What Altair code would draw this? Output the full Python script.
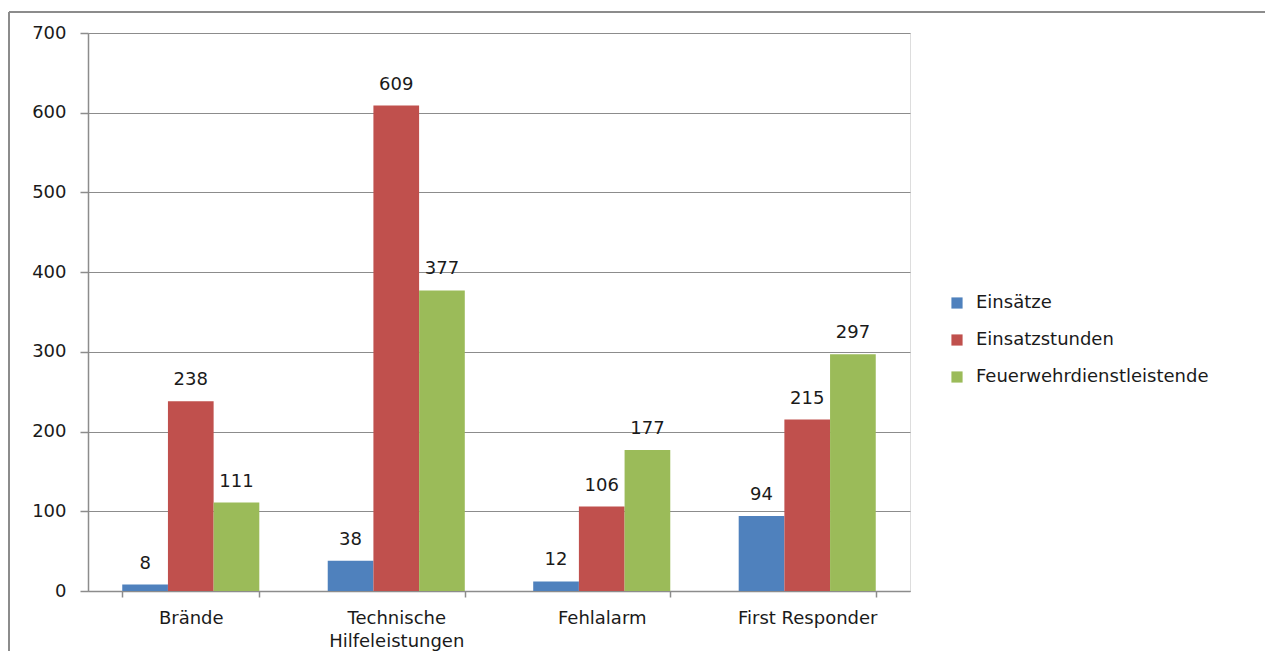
import altair as alt
import pandas as pd

categories = ["Brände", "Technische|Hilfeleistungen", "Fehlalarm", "First Responder"]
series = ["Einsätze", "Einsatzstunden", "Feuerwehrdienstleistende"]
einsaetze = [8, 38, 12, 94]
einsatzstunden = [238, 609, 106, 215]
feuerwehr = [111, 377, 177, 297]
colors = ["#4F81BD", "#C0504D", "#9BBB59"]

rows = []
for i, c in enumerate(categories):
    for s, vals in zip(series, [einsaetze, einsatzstunden, feuerwehr]):
        rows.append({"Kategorie": c, "Serie": s, "Wert": vals[i]})
df = pd.DataFrame(rows)

FONT = "DejaVu Sans"
FS = 18
TXT = "#1a1a1a"
GRAY = "#8c8c8c"

x = alt.X("Kategorie:N", sort=categories, title=None,
          scale=alt.Scale(paddingInner=0.333, paddingOuter=0.1667),
          axis=alt.Axis(labelAngle=0, labelFontSize=FS, labelFont=FONT, labelColor=TXT,
                        labelExpr="split(datum.label, '|')", labelPadding=12,
                        labelLineHeight=23,
                        domainColor=GRAY, domainWidth=1.5, tickColor=GRAY, tickWidth=1.5,
                        tickSize=6, tickBand="extent", grid=False))
y = alt.Y("Wert:Q", title=None,
          scale=alt.Scale(domain=[0, 700]),
          axis=alt.Axis(values=list(range(0, 701, 100)), labelFontSize=FS, labelFont=FONT,
                        labelColor=TXT, labelPadding=14, domainColor=GRAY, domainWidth=1.5,
                        tickColor=GRAY, tickWidth=1.5, tickSize=8,
                        gridColor=GRAY, gridWidth=1.2))
xo = alt.XOffset("Serie:N", sort=series)
color = alt.Color("Serie:N", sort=series,
                  scale=alt.Scale(domain=series, range=colors),
                  legend=alt.Legend(title=None, orient="none", legendX=860, legendY=261,
                                    symbolType="square", symbolSize=125, symbolStrokeWidth=0,
                                    labelFontSize=FS, labelFont=FONT, labelColor=TXT,
                                    labelLimit=0, rowPadding=19, labelOffset=10))

bars = alt.Chart(df).mark_bar().encode(x=x, xOffset=xo, y=y, color=color)
labels = alt.Chart(df).mark_text(dy=-12, fontSize=FS, font=FONT, color=TXT, baseline="bottom").encode(
    x=alt.X("Kategorie:N", sort=categories), xOffset=xo, y="Wert:Q", text="Wert:Q")

frame_top = alt.Chart(df).mark_rule(color=GRAY, strokeWidth=2).encode(
    x=alt.value(-79), x2=alt.value(1200), y=alt.value(-21))
frame_left = alt.Chart(df).mark_rule(color=GRAY, strokeWidth=2).encode(
    x=alt.value(-79), y=alt.value(-21), y2=alt.value(650))

chart = alt.layer(bars, labels, frame_top, frame_left).properties(
    width=822, height=558,
    padding={"left": 80, "top": 25, "right": 355, "bottom": 60},
    autosize=alt.AutoSizeParams(type="none"),
).configure_view(stroke=None).configure(background="white")

chart.save("out.html", embed_options={"renderer": "svg", "actions": False})
